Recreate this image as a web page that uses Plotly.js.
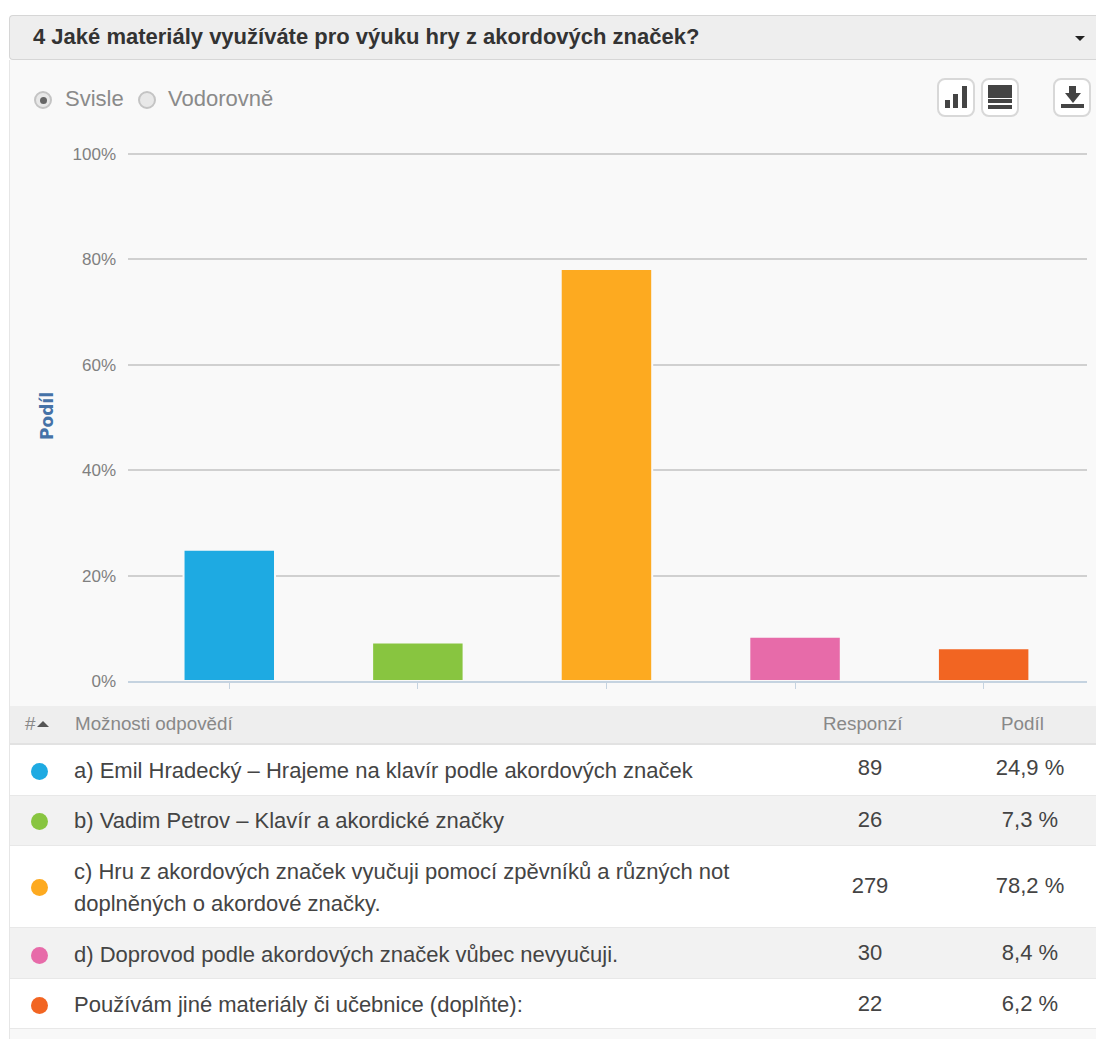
<!DOCTYPE html>
<html><head><meta charset="utf-8">
<script src="https://cdn.plot.ly/plotly-3.0.1.min.js"></script>
<style>
html,body{margin:0;padding:0;background:#fff;overflow:hidden}
#page{position:relative;width:1096px;height:1039px;font-family:"Liberation Sans",Arial,sans-serif;overflow:hidden}
#panel{position:absolute;left:9px;top:60px;width:1087px;height:646px;background:#f9f9f9;border-left:1px solid #e6e6e6;box-sizing:border-box}
#head{position:absolute;left:9px;top:15px;width:1087px;height:45px;background:#eeeeee;border:1px solid #d6d6d6;border-right:none;border-radius:4px 0 0 4px;box-sizing:border-box;font-weight:bold;font-size:22px;color:#333;line-height:41px;padding-left:23px}
#caret{position:absolute;left:1075px;top:36px;width:0;height:0;border-left:5px solid transparent;border-right:5px solid transparent;border-top:5px solid #222}
#plot{position:absolute;left:0;top:0;width:1096px;height:706px}
.radio{position:absolute;top:91px;width:14px;height:14px;border-radius:50%;border:2px solid #c4c4c4;background:#e8e8e8;box-sizing:content-box}
.radio.on::after{content:"";position:absolute;left:3.5px;top:3.5px;width:7px;height:7px;border-radius:50%;background:#666}
.rlabel{position:absolute;top:86px;font-size:22px;color:#8a8a8a;line-height:26px}
.btn{position:absolute;top:78px;width:34px;height:35px;border:2px solid #d8d8d8;border-radius:8px;background:#fff;box-sizing:content-box}
.btn div{position:absolute;background:#444}
.btn div.tri{background:none;width:0;height:0;border-left:8px solid transparent;border-right:8px solid transparent;border-top:10px solid #444}
#tbl{position:absolute;left:9px;top:706px;width:1087px;border-left:1px solid #e6e6e6;box-sizing:border-box}
.row{position:relative;box-sizing:border-box;border-bottom:1px solid #e8e8e8;font-size:22px;color:#444}
.th{background:#eeeeee;height:39px;color:#888;font-size:18.8px;border-bottom:2px solid #e2e2e2}
.cell{position:absolute}
.dot{position:absolute;left:21px;width:17px;height:17px;border-radius:50%}
</style></head><body>
<div id="page">
 <div id="panel"></div>
 <div id="head">4 Jaké materiály využíváte pro výuku hry z akordových značek?</div>
 <div id="caret"></div>
 <div class="radio on" style="left:34px"></div><div class="rlabel" style="left:65px">Svisle</div>
 <div class="radio" style="left:138px"></div><div class="rlabel" style="left:168px">Vodorovně</div>
 <div class="btn" style="left:937px"><div style="left:6px;top:20px;width:5px;height:8px"></div><div style="left:14px;top:14px;width:5px;height:14px"></div><div style="left:23px;top:6px;width:5px;height:22px"></div></div>
 <div class="btn" style="left:981px"><div style="left:5px;top:5px;width:24px;height:13px"></div><div style="left:5px;top:19px;width:24px;height:4px"></div><div style="left:5px;top:25px;width:24px;height:4px"></div></div>
 <div class="btn" style="left:1053px"><div style="left:14px;top:6px;width:7px;height:8px"></div><div class="tri" style="left:10px;top:13px"></div><div style="left:6px;top:24px;width:23px;height:4px"></div></div>
 <div id="plot"></div>
 <div id="tbl"></div>
</div>
<script>
var categories=["a) Emil Hradecký – Hrajeme na klavír podle akordových značek","b) Vadim Petrov – Klavír a akordické značky","c) Hru z akordových značek vyučuji pomocí zpěvníků a různých not<br>doplněných o akordové značky.","d) Doprovod podle akordových značek vůbec nevyučuji.","Používám jiné materiály či učebnice (doplňte):"];
var shares=[24.9,7.3,78.2,8.4,6.2];
var responses=[89,26,279,30,22];
var shareLabels=["24,9 %","7,3 %","78,2 %","8,4 %","6,2 %"];
var colors=["#1eaae2","#88c540","#fdaa20","#e76ba9","#f26522"];
var yTicks=[0,20,40,60,80,100];
var yTickLabels=["0%","20%","40%","60%","80%","100%"];
var xIdx=[0,1,2,3,4];

Plotly.newPlot("plot",[{type:"bar",x:xIdx,y:shares,width:0.485,marker:{color:colors,line:{color:"#f9f9f9",width:2}},hoverinfo:"none"}],{
 width:1096,height:706,paper_bgcolor:"rgba(0,0,0,0)",plot_bgcolor:"rgba(0,0,0,0)",
 margin:{l:128,r:9,t:151,b:25,pad:0},showlegend:false,
 xaxis:{range:[-0.537,4.548],tickvals:xIdx,ticktext:["","","","",""],ticks:"outside",ticklen:6,tickcolor:"#c5d3e0",tickwidth:1,showgrid:false,zeroline:false,showline:true,linecolor:"#c5d3e0",linewidth:1.5,fixedrange:true},
 yaxis:{range:[0,100.57],tickvals:yTicks,ticktext:yTickLabels,tickfont:{family:"Liberation Sans, Arial, sans-serif",size:17,color:"#808080"},ticks:"",gridcolor:"#d0d0d0",gridwidth:2,zeroline:false,showline:false,automargin:true,ticklabelstandoff:11,
  title:{text:"<b>Podíl</b>",font:{family:"DejaVu Sans, sans-serif",size:17,color:"#4572a7"},standoff:14},fixedrange:true}
},{displayModeBar:false,staticPlot:true});

var tbl=document.getElementById("tbl");
var rowH=[51,50,82,51,50], bg=["#fff","#f2f2f2","#fff","#f2f2f2","#fff"];
var dotTop=[18,17,33,19,18], labelTop=[13,12,9.5,14,13], numTop=[10,11,27,12,12];
var html='<div class="row th"><span class="cell" style="left:15px;top:7px">#</span><span class="cell" style="left:27px;top:15px;width:0;height:0;border-left:6px solid transparent;border-right:6px solid transparent;border-bottom:6px solid #555"></span><span class="cell" style="left:65px;top:7px">Možnosti odpovědí</span><span class="cell" style="left:813px;top:7px">Responzí</span><span class="cell" style="left:991px;top:7px">Podíl</span></div>';
categories.forEach(function(c,i){
 html+='<div class="row" style="height:'+rowH[i]+'px;background:'+bg[i]+'"><span class="dot" style="top:'+dotTop[i]+'px;background:'+colors[i]+'"></span>'+
 '<span class="cell" style="left:64px;top:'+labelTop[i]+'px;white-space:nowrap;line-height:'+(i==2?32:26)+'px">'+c+'</span>'+
 '<span class="cell" style="left:800px;width:120px;text-align:center;top:'+numTop[i]+'px;line-height:26px">'+responses[i]+'</span>'+
 '<span class="cell" style="left:960px;width:120px;text-align:center;top:'+numTop[i]+'px;line-height:26px">'+shareLabels[i]+'</span></div>';
});
html+='<div class="row" style="height:12px;background:#f8f8f8;border:none"></div>';
tbl.innerHTML=html;
</script>
</body></html>
